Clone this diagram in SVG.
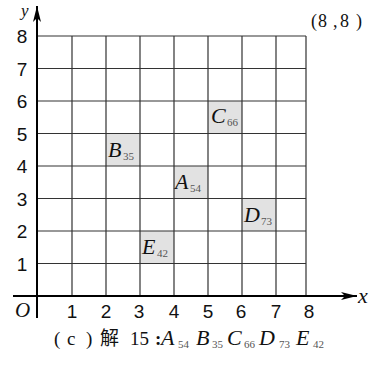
<svg xmlns="http://www.w3.org/2000/svg" width="382" height="365" viewBox="0 0 382 365">
<style>
.grid{stroke:#333;stroke-width:1.2;fill:none}
.axis{stroke:#000;stroke-width:2;fill:none}
.cell{fill:#e2e2e2}
.num{font-family:"Liberation Sans",Arial,sans-serif;font-size:19px;fill:#111;text-anchor:middle}
.it{font-family:"Liberation Serif","Times New Roman",serif;font-style:italic;fill:#111}
.lab{font-size:22px}
.sub{font-family:"Liberation Serif","Times New Roman",serif;font-size:11px;fill:#555;font-style:normal}
.ser{font-family:"Liberation Serif","Times New Roman",serif;fill:#111}
</style>
<defs>
<marker id="arr" viewBox="0 0 16 8" refX="16" refY="4" markerWidth="16" markerHeight="8" markerUnits="userSpaceOnUse" orient="auto">
<path d="M0,0 L16,4 L0,8 L4,4 Z" fill="#000"/>
</marker>
</defs>
<g id="cells">
<rect class="cell" x="208" y="101" width="34" height="32.5"/>
<rect class="cell" x="106" y="133.5" width="34" height="32.5"/>
<rect class="cell" x="174" y="166" width="34" height="32.5"/>
<rect class="cell" x="242" y="198.5" width="34" height="32.5"/>
<rect class="cell" x="140" y="231" width="34" height="32.5"/>
</g>
<g id="grid" class="grid">
<path d="M38,36H306M38,68.5H306M38,101H306M38,133.5H306M38,166H306M38,198.5H306M38,231H306M38,263.5H306"/>
<path d="M72,36V296M106,36V296M140,36V296M174,36V296M208,36V296M242,36V296M276,36V296M306,36V296"/>
</g>
<g id="connectors">
<line class="axis" x1="37" y1="318" x2="37" y2="6" marker-end="url(#arr)"/>
<line class="axis" x1="13" y1="296" x2="357" y2="296" marker-end="url(#arr)"/>
</g>
<g id="ylabels">
<text class="num" x="22" y="43">8</text>
<text class="num" x="22" y="76">7</text>
<text class="num" x="22" y="108">6</text>
<text class="num" x="22" y="141">5</text>
<text class="num" x="22" y="173">4</text>
<text class="num" x="22" y="206">3</text>
<text class="num" x="22" y="238">2</text>
<text class="num" x="22" y="271">1</text>
</g>
<g id="xlabels">
<text class="num" x="72" y="318">1</text>
<text class="num" x="106" y="318">2</text>
<text class="num" x="139" y="318">3</text>
<text class="num" x="174" y="318">4</text>
<text class="num" x="208" y="318">5</text>
<text class="num" x="241" y="318">6</text>
<text class="num" x="276" y="318">7</text>
<text class="num" x="309" y="318">8</text>
</g>
<g id="axis-labels">
<text class="it" x="15" y="317" font-size="21">O</text>
<text class="it" x="358" y="303" font-size="22">x</text>
<text class="it" x="21" y="16" font-size="17">y</text>
<text class="ser" font-size="18" y="27"><tspan x="311">(</tspan><tspan x="318">8</tspan><tspan x="333">,</tspan><tspan x="340">8</tspan><tspan x="356">)</tspan></text>
</g>
<g id="nodeC"><text class="it lab" x="211" y="123">C<tspan class="sub" x="227" y="126">66</tspan></text></g>
<g id="nodeB"><text class="it lab" x="108" y="157">B<tspan class="sub" x="123" y="160">35</tspan></text></g>
<g id="nodeA"><text class="it lab" x="175" y="189">A<tspan class="sub" x="190" y="192">54</tspan></text></g>
<g id="nodeD"><text class="it lab" x="244" y="222">D<tspan class="sub" x="261" y="225">73</tspan></text></g>
<g id="nodeE"><text class="it lab" x="142" y="254">E<tspan class="sub" x="157" y="257">42</tspan></text></g>
<g id="caption">
<text class="ser" font-size="19" y="345"><tspan x="54">(</tspan><tspan x="67">c</tspan><tspan x="86">)</tspan><tspan x="100" font-family="'Noto Sans CJK SC',sans-serif">解</tspan><tspan x="130">15</tspan><tspan x="155" font-weight="bold">:</tspan></text>
<text class="it" font-size="22" y="345"><tspan x="161">A</tspan><tspan class="sub" x="178" y="348">54</tspan><tspan x="196" y="345">B</tspan><tspan class="sub" x="212" y="348">35</tspan><tspan x="227" y="345">C</tspan><tspan class="sub" x="244" y="348">66</tspan><tspan x="259" y="345">D</tspan><tspan class="sub" x="279" y="348">73</tspan><tspan x="296" y="345">E</tspan><tspan class="sub" x="313" y="348">42</tspan></text>
</g>
</svg>
